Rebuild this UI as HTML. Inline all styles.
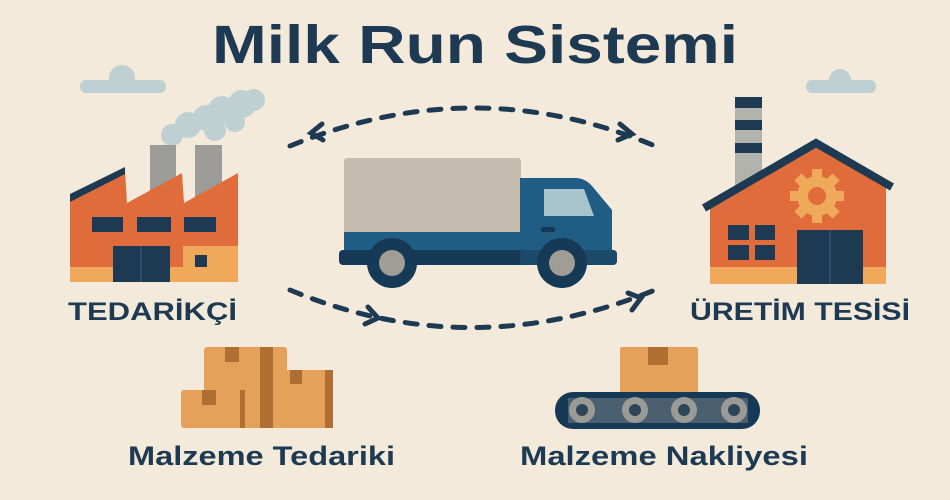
<!DOCTYPE html>
<html><head><meta charset="utf-8"><style>
html,body{margin:0;padding:0;background:#f3eadb;}
svg{display:block}
text{font-family:"Liberation Sans",sans-serif;font-weight:bold;fill:#1e3a52}
</style></head><body>
<svg width="950" height="500" viewBox="0 0 950 500">
<rect width="950" height="500" fill="#f3eadb"/>
<text x="212" y="63" font-size="54" textLength="526" lengthAdjust="spacingAndGlyphs">Milk Run Sistemi</text>
<!-- clouds -->
<rect x="80" y="80" width="86" height="13" rx="6" fill="#bfd0d3"/>
<circle cx="122" cy="78" r="13" fill="#bfd0d3"/>
<rect x="806" y="80" width="70" height="13" rx="6" fill="#bfd0d3"/>
<circle cx="840" cy="80" r="11" fill="#bfd0d3"/>
<!-- smoke -->
<g fill="#bfd0d3">
<circle cx="172" cy="135" r="11"/><circle cx="188" cy="125" r="13"/><circle cx="206" cy="118" r="13"/><circle cx="222" cy="110" r="14"/><circle cx="242" cy="104" r="14"/><circle cx="254" cy="100" r="11"/><circle cx="215" cy="130" r="11"/><circle cx="235" cy="122" r="10"/>
</g>
<!-- left factory -->
<rect x="150" y="145" width="26" height="60" fill="#9c9c98"/>
<rect x="195" y="145" width="27" height="60" fill="#9c9c98"/>
<polygon points="70,197 125,170 127,203 182,173 184,203 238,173 238,282 70,282" fill="#e06c3c"/>
<polygon points="70,194 125,167 125,174 70,202" fill="#1e3a52"/>
<rect x="70" y="267" width="168" height="15" fill="#f0a95a"/>
<rect x="183" y="246" width="55" height="21" fill="#f0a95a"/>
<rect x="195" y="255" width="12" height="12" fill="#1e3a52"/>
<rect x="92" y="217" width="31" height="15" fill="#1e3a52"/>
<rect x="137" y="217" width="34" height="15" fill="#1e3a52"/>
<rect x="184" y="217" width="32" height="15" fill="#1e3a52"/>
<rect x="113" y="246" width="57" height="36" fill="#1e3a52"/>
<line x1="141" y1="246" x2="141" y2="282" stroke="#2d4d66" stroke-width="2"/>
<text x="68" y="320" font-size="25" textLength="169" lengthAdjust="spacingAndGlyphs">TEDARİKÇİ</text>
<!-- right factory -->
<rect x="735" y="97" width="27" height="90" fill="#b3b3ae"/>
<rect x="735" y="97" width="27" height="11" fill="#1e3a52"/>
<rect x="735" y="120" width="27" height="10" fill="#1e3a52"/>
<rect x="735" y="143" width="27" height="10" fill="#1e3a52"/>
<polygon points="710,205 816,145 886,185 886,284 710,284" fill="#e06c3c"/>
<polyline points="704,208 816,143 892,187" fill="none" stroke="#1e3a52" stroke-width="8"/>
<rect x="710" y="267" width="176" height="17" fill="#f0a95a"/>
<g fill="#f0a95a" transform="translate(817,196)">
<circle r="20"/>
<g><rect x="-5" y="-27" width="10" height="54"/><rect x="-27" y="-5" width="54" height="10"/>
<rect x="-5" y="-27" width="10" height="54" transform="rotate(45)"/><rect x="-5" y="-27" width="10" height="54" transform="rotate(-45)"/></g>
<circle r="9" fill="#e06c3c"/>
</g>
<rect x="728" y="225" width="21" height="15" fill="#1e3a52"/>
<rect x="755" y="225" width="20" height="15" fill="#1e3a52"/>
<rect x="728" y="245" width="21" height="15" fill="#1e3a52"/>
<rect x="755" y="245" width="20" height="15" fill="#1e3a52"/>
<rect x="797" y="230" width="66" height="54" fill="#1e3a52"/>
<line x1="830" y1="230" x2="830" y2="284" stroke="#2d4d66" stroke-width="2"/>
<text x="690" y="320" font-size="25" textLength="220" lengthAdjust="spacingAndGlyphs">ÜRETİM TESİSİ</text>
<!-- arcs -->
<g fill="none" stroke="#1e3a52" stroke-width="5" stroke-linecap="round">
<path d="M290,146 Q475,70 655,146" stroke-dasharray="12 12"/>
<path d="M290,290 Q470,365 655,290" stroke-dasharray="12 12"/>
<polyline points="322,124 311,133 323,140"/>
<polyline points="620,124 632,134 618,140"/>
<polyline points="368,307 378,318 365,324"/>
<polyline points="628,293 641,298 632,310"/>
</g>
<!-- truck -->
<rect x="344" y="158" width="177" height="80" rx="3" fill="#c5bdb0"/>
<rect x="344" y="232" width="178" height="18" fill="#215c84"/>
<path d="M520,178 H575 Q585,178 592,186 L612,210 V265 H520 Z" fill="#215c84"/>
<path d="M544,189 H584 L594,216 H544 Z" fill="#a8c4cc"/>
<rect x="541" y="227" width="14" height="5" rx="2" fill="#163a55"/>
<rect x="339" y="250" width="278" height="15" rx="4" fill="#163a55"/>
<rect x="520" y="250" width="97" height="15" rx="4" fill="#1c4a6a"/>
<circle cx="392" cy="263" r="25" fill="#163a55"/><circle cx="392" cy="263" r="13" fill="#a09c96"/>
<circle cx="562" cy="263" r="25" fill="#163a55"/><circle cx="562" cy="263" r="13" fill="#a09c96"/>
<!-- boxes -->
<rect x="204" y="347" width="83" height="81" rx="3" fill="#e5a05a"/>
<rect x="225" y="347" width="14" height="15" fill="#b06f32"/>
<rect x="260" y="347" width="13" height="81" fill="#b06f32"/>
<rect x="273" y="370" width="60" height="58" rx="3" fill="#e5a05a"/>
<rect x="290" y="370" width="12" height="14" fill="#b06f32"/>
<rect x="325" y="370" width="8" height="58" fill="#b06f32"/>
<rect x="181" y="390" width="64" height="38" rx="3" fill="#e5a05a"/>
<rect x="202" y="390" width="14" height="15" fill="#b06f32"/>
<rect x="240" y="390" width="5" height="38" fill="#b06f32"/>
<text x="128" y="465" font-size="27" textLength="267" lengthAdjust="spacingAndGlyphs">Malzeme Tedariki</text>
<!-- conveyor -->
<rect x="620" y="347" width="78" height="46" rx="2" fill="#e5a05a"/>
<rect x="648" y="347" width="20" height="18" fill="#b06f32"/>
<rect x="555" y="392" width="205" height="37" rx="18" fill="#163a55"/>
<rect x="568" y="398" width="180" height="25" fill="#4a6070"/>
<g fill="#9a9a96"><circle cx="582" cy="410" r="13"/><circle cx="635" cy="410" r="13"/><circle cx="684" cy="410" r="13"/><circle cx="734" cy="410" r="13"/></g>
<g fill="#2d4556"><circle cx="582" cy="410" r="6"/><circle cx="635" cy="410" r="6"/><circle cx="684" cy="410" r="6"/><circle cx="734" cy="410" r="6"/></g>
<text x="520" y="465" font-size="27" textLength="288" lengthAdjust="spacingAndGlyphs">Malzeme Nakliyesi</text>
</svg>
</body></html>
